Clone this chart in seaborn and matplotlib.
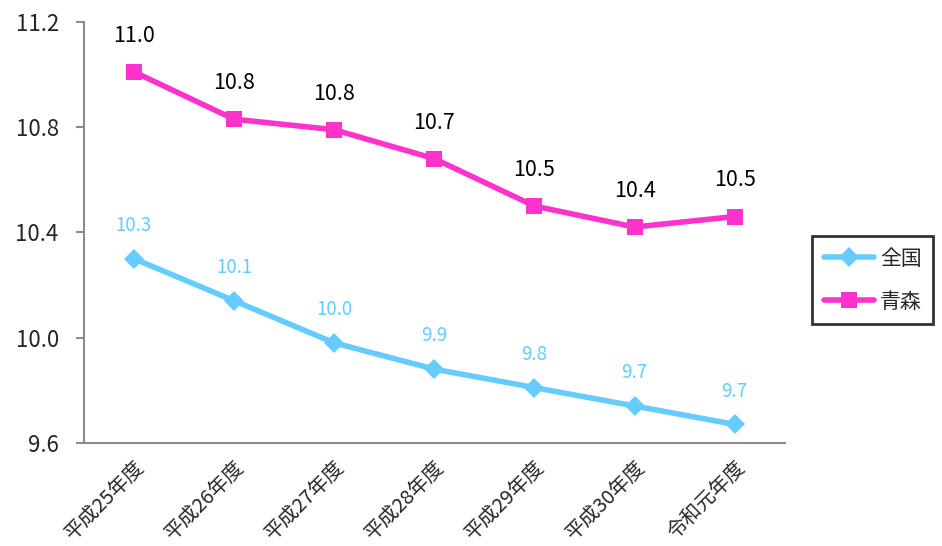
import numpy as np
import pandas as pd
import matplotlib
matplotlib.use('Agg')
import matplotlib.pyplot as plt
import seaborn as sns
from matplotlib.lines import Line2D

years = ["平成25年度", "平成26年度", "平成27年度", "平成28年度",
         "平成29年度", "平成30年度", "令和元年度"]
zenkoku = [10.30, 10.14, 9.98, 9.88, 9.81, 9.74, 9.67]
aomori = [11.01, 10.83, 10.79, 10.68, 10.50, 10.42, 10.46]
zenkoku_labels = ["10.3", "10.1", "10.0", "9.9", "9.8", "9.7", "9.7"]
aomori_labels = ["11.0", "10.8", "10.8", "10.7", "10.5", "10.4", "10.5"]

sns.set_style("white")
plt.rcParams['font.family'] = ['Noto Sans CJK JP', 'DejaVu Sans']

BLUE = '#66CCFF'
PINK = '#FF33CC'

df = pd.DataFrame({
    'x': list(range(len(years))) * 2,
    'value': zenkoku + aomori,
    'series': ['全国'] * len(years) + ['青森'] * len(years),
})

fig = plt.figure(figsize=(9.42, 5.46), dpi=100)
ax = fig.add_axes([0.089, 0.189, 0.744, 0.771])

sns.lineplot(data=df, x='x', y='value', hue='series', style='series',
             palette={'全国': BLUE, '青森': PINK},
             markers={'全国': 'D', '青森': 's'}, dashes=False,
             linewidth=4, markersize=12, markeredgewidth=0,
             ax=ax, legend=False)
# diamonds a little smaller than squares
for line in ax.lines:
    if matplotlib.colors.to_hex(line.get_color()).upper() == BLUE:
        line.set_markersize(10)

for i, (v, t) in enumerate(zip(zenkoku, zenkoku_labels)):
    ax.annotate(t, (i, v), xytext=(0, 24), textcoords='offset points',
                ha='center', va='center', color=BLUE, fontsize=13.5)
for i, (v, t) in enumerate(zip(aomori, aomori_labels)):
    ax.annotate(t, (i, v), xytext=(0, 26), textcoords='offset points',
                ha='center', va='center', color='black', fontsize=15.5)

ax.set_xlim(-0.5, len(years) - 0.5)
ax.set_ylim(9.6, 11.2)
ax.set_yticks([9.6, 10.0, 10.4, 10.8, 11.2])
ax.set_yticklabels(['9.6', '10.0', '10.4', '10.8', '11.2'], fontsize=16)
ax.set_xticks(range(len(years)))
ax.set_xticklabels(years, rotation=45, ha='right', rotation_mode='anchor', fontsize=14.5)
ax.tick_params(axis='x', length=0, pad=10)
ax.set_xticks(np.arange(-0.5, len(years)), minor=True)
ax.tick_params(axis='x', which='minor', length=5, color='#8c8c8c', width=1.5, direction='out')
ax.tick_params(axis='y', length=6, color='#8c8c8c', width=1.5, direction='out', left=True, pad=12)
ax.set_xlabel('')
ax.set_ylabel('')
sns.despine(ax=ax)
for s in ['left', 'bottom']:
    ax.spines[s].set_color('#8c8c8c')
    ax.spines[s].set_linewidth(1.5)

handles = [
    Line2D([], [], color=BLUE, marker='D', markersize=10, linewidth=4, markeredgewidth=0),
    Line2D([], [], color=PINK, marker='s', markersize=12, linewidth=4, markeredgewidth=0),
]
leg = fig.legend(handles, ['全国', '青森'], loc='center left',
                 bbox_to_anchor=(0.851, 0.487), frameon=True, fancybox=False,
                 edgecolor='black', fontsize=15, handlelength=2.4,
                 labelspacing=1.0, borderpad=0.55, handletextpad=0.3)
leg.get_frame().set_linewidth(2)

fig.savefig('out.png', dpi=100)
